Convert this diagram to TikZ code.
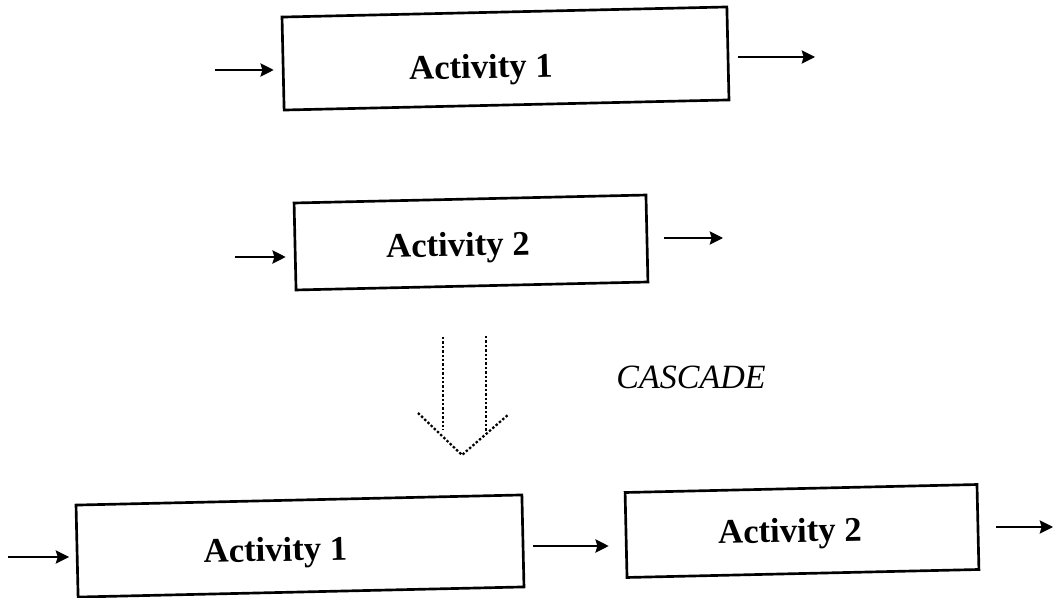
\documentclass[tikz,border=0pt]{standalone}
\usepackage{fontspec}
\setmainfont{Liberation Serif}
\usetikzlibrary{arrows.meta}
\begin{document}
\begin{tikzpicture}[x=0.75pt,y=-0.75pt,
  box/.style={draw, line width=2pt, inner sep=0pt, rotate=1.3},
  lbl/.style={font=\fontsize{26}{30}\selectfont\bfseries, rotate=1.3},
  arr/.style={line width=1.3pt, -{Stealth[length=10pt,width=10pt,inset=1.5pt]}},
  dots/.style={line width=1.7pt, dash pattern=on 1.8pt off 1.5pt}]
\useasboundingbox (0,0) rectangle (1053,598);

% upper pair of activities
\node[box, minimum width=333.75pt, minimum height=69.75pt] (b1) at (505.5,58.5) {};
\node[lbl] (t1) at (481,70) {Activity 1};
\node[box, minimum width=264pt, minimum height=65.25pt] (b2) at (471,242.5) {};
\node[lbl] (t2) at (458,248) {Activity 2};

% the same activities run in sequence
\node[box, minimum width=334.5pt, minimum height=69pt] (c1) at (300,546) {};
\node[lbl] (t3) at (275.5,553) {Activity 1};
\node[box, minimum width=264pt, minimum height=63.75pt] (c2) at (802,531) {};
\node[lbl] (t4) at (790,534) {Activity 2};

\node[font=\fontsize{25.5}{30}\selectfont\itshape] (cas) at (691,377) {CASCADE};

% inputs and outputs
\coordinate (i1) at (215,70);
\coordinate (o1) at (815,57);
\coordinate (i2) at (235,257);
\coordinate (o2) at (723,238);
\coordinate (i3) at (8,557);
\coordinate (m3) at (0,546);
\coordinate (o4) at (1053,527);

\draw[arr, shorten >=6pt] (i1) -- (i1 -| b1.west);
\draw[arr, shorten <=6.75pt] (o1 -| b1.east) -- (o1);
\draw[arr, shorten >=6pt] (i2) -- (i2 -| b2.west);
\draw[arr, shorten <=12pt] (o2 -| b2.east) -- (o2);
\draw[arr, shorten >=5pt] (i3) -- (i3 -| c1.west);
\draw[arr, shorten <=6.75pt, shorten >=12pt] (m3 -| c1.east) -- (m3 -| c2.west);
\draw[arr, shorten <=12.75pt] (o4 -| c2.east) -- (o4);

% hollow dotted arrow
\coordinate (v1a) at (443,337);
\coordinate (v1b) at (443,430);
\coordinate (v2a) at (486,336);
\coordinate (v2b) at (486,433);
\coordinate (hl) at (418,413);
\coordinate (hp) at (462,455);
\coordinate (hr) at (509,414);
\draw[dots] (v1a) -- (v1b);
\draw[dots] (v2a) -- (v2b);
\draw[dots] (hl) -- (hp) -- (hr);
\end{tikzpicture}
\end{document}
